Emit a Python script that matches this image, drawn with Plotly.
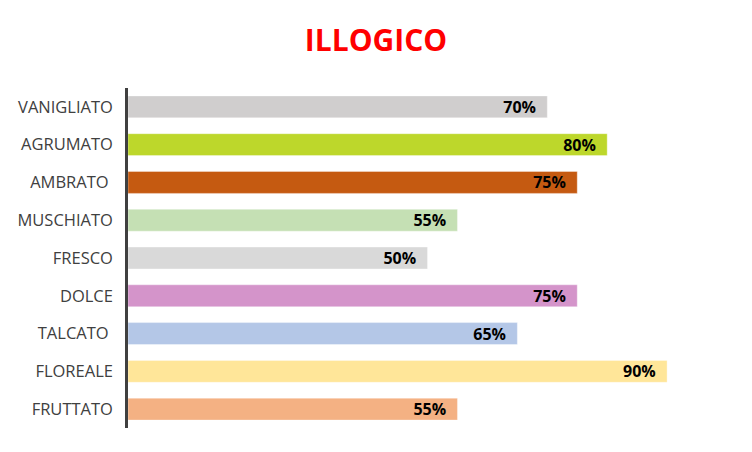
import plotly.graph_objects as go

categories = ["FRUTTATO", "FLOREALE", "TALCATO ", "DOLCE", "FRESCO", "MUSCHIATO", "AMBRATO ", "AGRUMATO", "VANIGLIATO"]
values = [0.55, 0.90, 0.65, 0.75, 0.50, 0.55, 0.75, 0.80, 0.70]
labels = ["55%", "90%", "65%", "75%", "50%", "55%", "75%", "80%", "70%"]
colors = ["#F4B183", "#FFE699", "#B4C7E7", "#D494CA", "#D9D9D9", "#C5E0B4", "#C55A11", "#BDD72B", "#D0CECE"]
title = "ILLOGICO"

FONT = "Open Sans, Liberation Sans, sans-serif"

fig = go.Figure(go.Bar(
    y=categories, x=values, orientation="h",
    marker=dict(color=colors, line=dict(color="rgba(255,255,255,0.35)", width=1)),
    text=labels, texttemplate="%{text}  ", textposition="inside", insidetextanchor="end",
    constraintext="none",
    textfont=dict(family=FONT, size=16, color="black", weight="bold"),
    cliponaxis=False,
))

fig.update_layout(
    width=752, height=452,
    margin=dict(l=120, r=33, t=80, b=32, autoexpand=False),
    paper_bgcolor="white", plot_bgcolor="white",
    title=dict(text=title, x=0.4894, xanchor="center", y=0.929, yanchor="middle",
               font=dict(family=FONT, size=30, color="#FF0000", weight="bold")),
    bargap=0.42,
    showlegend=False,
    xaxis=dict(range=[0, 1], visible=False, showgrid=False, zeroline=False),
    yaxis=dict(showline=True, linecolor="#404040", linewidth=2.5, ticks="", showgrid=False,
               automargin=False, ticklabelstandoff=9,
               tickfont=dict(family=FONT, size=16.5, color="#404040")),
)

fig.write_html("out.html")
